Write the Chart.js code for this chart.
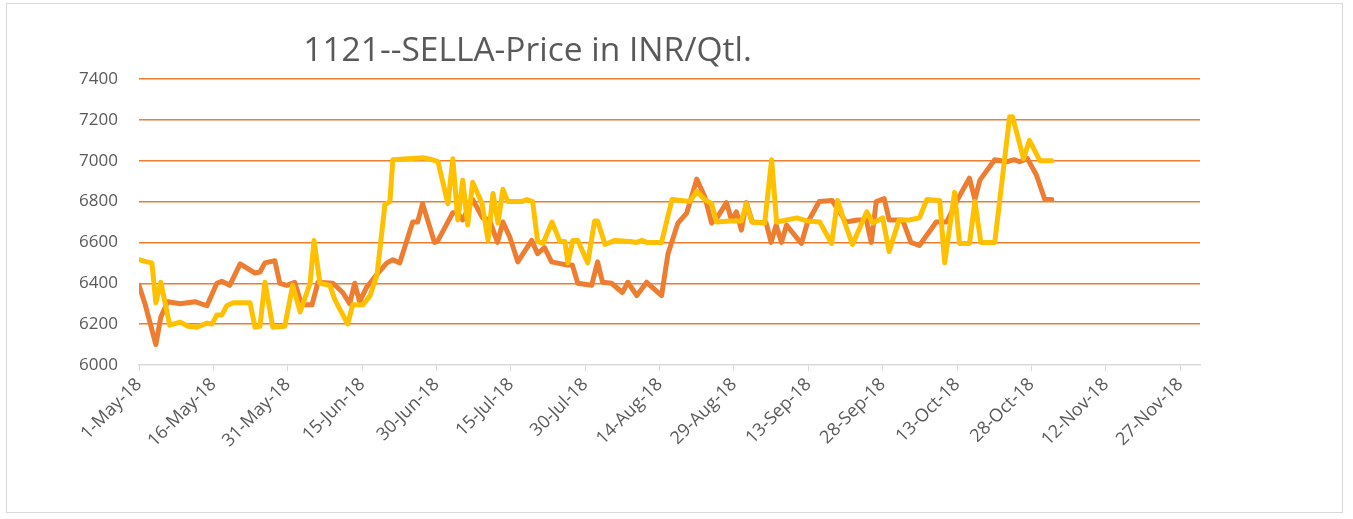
<!DOCTYPE html>
<html>
<head>
<meta charset="utf-8">
<script src="https://cdn.jsdelivr.net/npm/chart.js@4/dist/chart.umd.min.js"></script>
<style>
  html, body { margin: 0; padding: 0; background: #ffffff; }
  #wrap { position: relative; width: 1353px; height: 519px; overflow: hidden; }
  #frame { position: absolute; left: 6px; top: 3px; width: 1337px; height: 510px; border: 1px solid #d9d9d9; box-sizing: border-box; }
  #title { position: absolute; left: 0; top: 27px; width: 1055px; text-align: center;
           font-family: "Open Sans", sans-serif; font-size: 33.5px; line-height: 42px; color: #595959; }
  canvas { position: absolute; left: 0; top: 0; }
</style>
</head>
<body>
<div id="wrap">
  <div id="frame"></div>
  <canvas id="c" width="1353" height="519"></canvas>
  <div id="title">1121--SELLA-Price in INR/Qtl.</div>
</div>
<script>
// Days since 1-May-18
const orangeDays = [0,1.2,3.4,4.4,5.8,8.3,11.3,13.7,15.7,16.7,18.3,20.4,23.4,24.4,25.4,27.4,28.4,29.8,31.4,32.8,34.9,36.1,39.1,41.1,42.5,43.5,44.5,45.9,48.2,50,51.2,52.6,55.2,56.2,57.2,59.6,60.2,63.3,64.3,65.3,67.3,69.3,70.7,72.3,73.4,74.8,76.4,79.2,80.4,81.8,83.2,86.2,87.4,88.5,91.3,92.5,93.5,95.3,97.5,98.6,100.4,102.4,105.4,106.7,108.7,110.5,112.5,114.1,115.5,116.7,118.5,119.5,120.5,121.5,122.5,123.7,126.5,127.5,128.5,129.6,130.6,133.6,134.8,137.2,139.8,142.6,144.9,146.7,147.7,148.7,150.3,151.3,154,155.7,157.4,160.8,162.9,165.1,167.5,168.6,169.6,172.6,175,176.6,177.6,179.2,181,182.7,184.1];
const orangeValues = [6390,6300,6100,6235,6310,6300,6310,6290,6400,6410,6390,6495,6450,6455,6500,6510,6400,6390,6405,6295,6295,6405,6400,6355,6300,6400,6310,6380,6450,6500,6515,6500,6700,6700,6790,6600,6605,6745,6745,6710,6810,6720,6710,6600,6700,6625,6505,6610,6545,6575,6505,6490,6490,6400,6390,6505,6405,6400,6355,6405,6340,6405,6340,6545,6695,6745,6910,6825,6695,6725,6795,6710,6750,6660,6795,6700,6695,6600,6685,6600,6685,6595,6695,6800,6805,6700,6710,6710,6600,6800,6815,6710,6710,6600,6585,6700,6700,6810,6915,6810,6905,7005,6995,7005,6995,7010,6930,6810,6810];

const yellowDays = [0,1.6,2.6,3.4,4.4,6.2,8.3,9.9,11.7,13.7,14.7,15.7,16.7,17.7,19,22.4,23.4,24.4,25.4,27,29.4,31,32.5,34.5,35.3,36.5,38.5,39.5,42.1,43.1,45.2,46.6,48,49.6,50.6,51.2,57.3,59.1,60.3,62.3,63.3,64.3,65.3,66.3,67.3,69.2,70.4,71.4,72.4,73.4,74.4,77.2,78.2,79.4,80.4,81.5,83.3,84.9,85.9,86.5,87.5,88.5,90.5,91.9,92.5,94,96,99,100.4,101.4,102.4,105.4,107.5,111.1,112.5,114.1,115.5,116.5,119.1,121.5,122.5,123.6,126.2,127.6,128.6,132.7,134.7,137.3,139.7,140.9,142.3,143.9,146.8,148,150,151.3,153.3,155.3,157.4,158.9,161.5,162.5,164.5,165.5,167.5,168.6,169.8,172.6,175.6,176.2,178.4,179.6,181.7,184.1];
const yellowValues = [6515,6505,6500,6305,6405,6195,6210,6190,6185,6205,6200,6245,6245,6290,6305,6305,6185,6190,6405,6185,6190,6390,6260,6400,6610,6400,6390,6320,6200,6295,6295,6340,6440,6785,6800,7005,7015,7005,6995,6790,7010,6710,6905,6685,6895,6790,6610,6840,6695,6860,6800,6800,6810,6800,6605,6595,6700,6605,6605,6500,6610,6610,6500,6705,6705,6590,6610,6605,6600,6610,6600,6600,6810,6800,6850,6810,6790,6700,6705,6705,6790,6700,6695,7005,6700,6720,6705,6700,6595,6805,6700,6590,6750,6695,6720,6555,6710,6710,6720,6810,6805,6500,6845,6595,6595,6800,6600,6600,7215,7215,7010,7100,7000,7000];

const xTickDays = [0,15,30,45,60,75,90,105,120,135,150,165,180,195,210];
const xTickLabels = ['1-May-18','16-May-18','31-May-18','15-Jun-18','30-Jun-18','15-Jul-18','30-Jul-18','14-Aug-18','29-Aug-18','13-Sep-18','28-Sep-18','13-Oct-18','28-Oct-18','12-Nov-18','27-Nov-18'];
const yTicks = [6000,6200,6400,6600,6800,7000,7200,7400];

const zip = (xs, ys) => xs.map((x, i) => ({ x: x, y: ys[i] }));

const FONT = '"Open Sans", sans-serif';
const TXT = '#595959';
const GRID = '#ED7D31';

new Chart(document.getElementById('c'), {
  type: 'line',
  data: {
    datasets: [
      { label: 'Series 2', data: zip(yellowDays, yellowValues), borderColor: '#FFC000', backgroundColor: '#FFC000',
        borderWidth: 5, pointRadius: 0, tension: 0, borderJoinStyle: 'round', borderCapStyle: 'round' },
      { label: 'Series 1', data: zip(orangeDays, orangeValues), borderColor: '#ED7D31', backgroundColor: '#ED7D31',
        borderWidth: 5, pointRadius: 0, tension: 0, borderJoinStyle: 'round', borderCapStyle: 'round' }
    ]
  },
  options: {
    responsive: false,
    animation: false,
    layout: { padding: { left: 0, top: 79, right: 153, bottom: 0 } },
    plugins: { legend: { display: false }, tooltip: { enabled: false }, title: { display: false } },
    scales: {
      x: {
        type: 'linear', min: 0, max: 214,
        afterBuildTicks: s => { s.ticks = xTickDays.map(v => ({ value: v })); },
        afterFit: s => { s.height = 154; },
        grid: { drawOnChartArea: false, drawTicks: true, tickLength: 6, color: '#d9d9d9', lineWidth: 1 },
        border: { display: true, color: '#d9d9d9', width: 1.5 },
        ticks: {
          autoSkip: false, maxRotation: 45, minRotation: 45, padding: 3,
          color: TXT, font: { family: FONT, size: 18 },
          callback: (v) => { const i = xTickDays.indexOf(v); return i >= 0 ? xTickLabels[i] : ''; }
        }
      },
      y: {
        min: 6000, max: 7400,
        afterBuildTicks: s => { s.ticks = yTicks.map(v => ({ value: v })); },
        afterFit: s => { s.width = 139; },
        grid: { drawTicks: false, lineWidth: 1.5,
                color: c => (c.tick && c.tick.value === 6000) ? 'rgba(0,0,0,0)' : GRID },
        border: { display: false },
        ticks: { padding: 21, color: TXT, font: { family: FONT, size: 17 },
                 callback: v => String(v) }
      }
    }
  }
});
</script>
</body>
</html>
